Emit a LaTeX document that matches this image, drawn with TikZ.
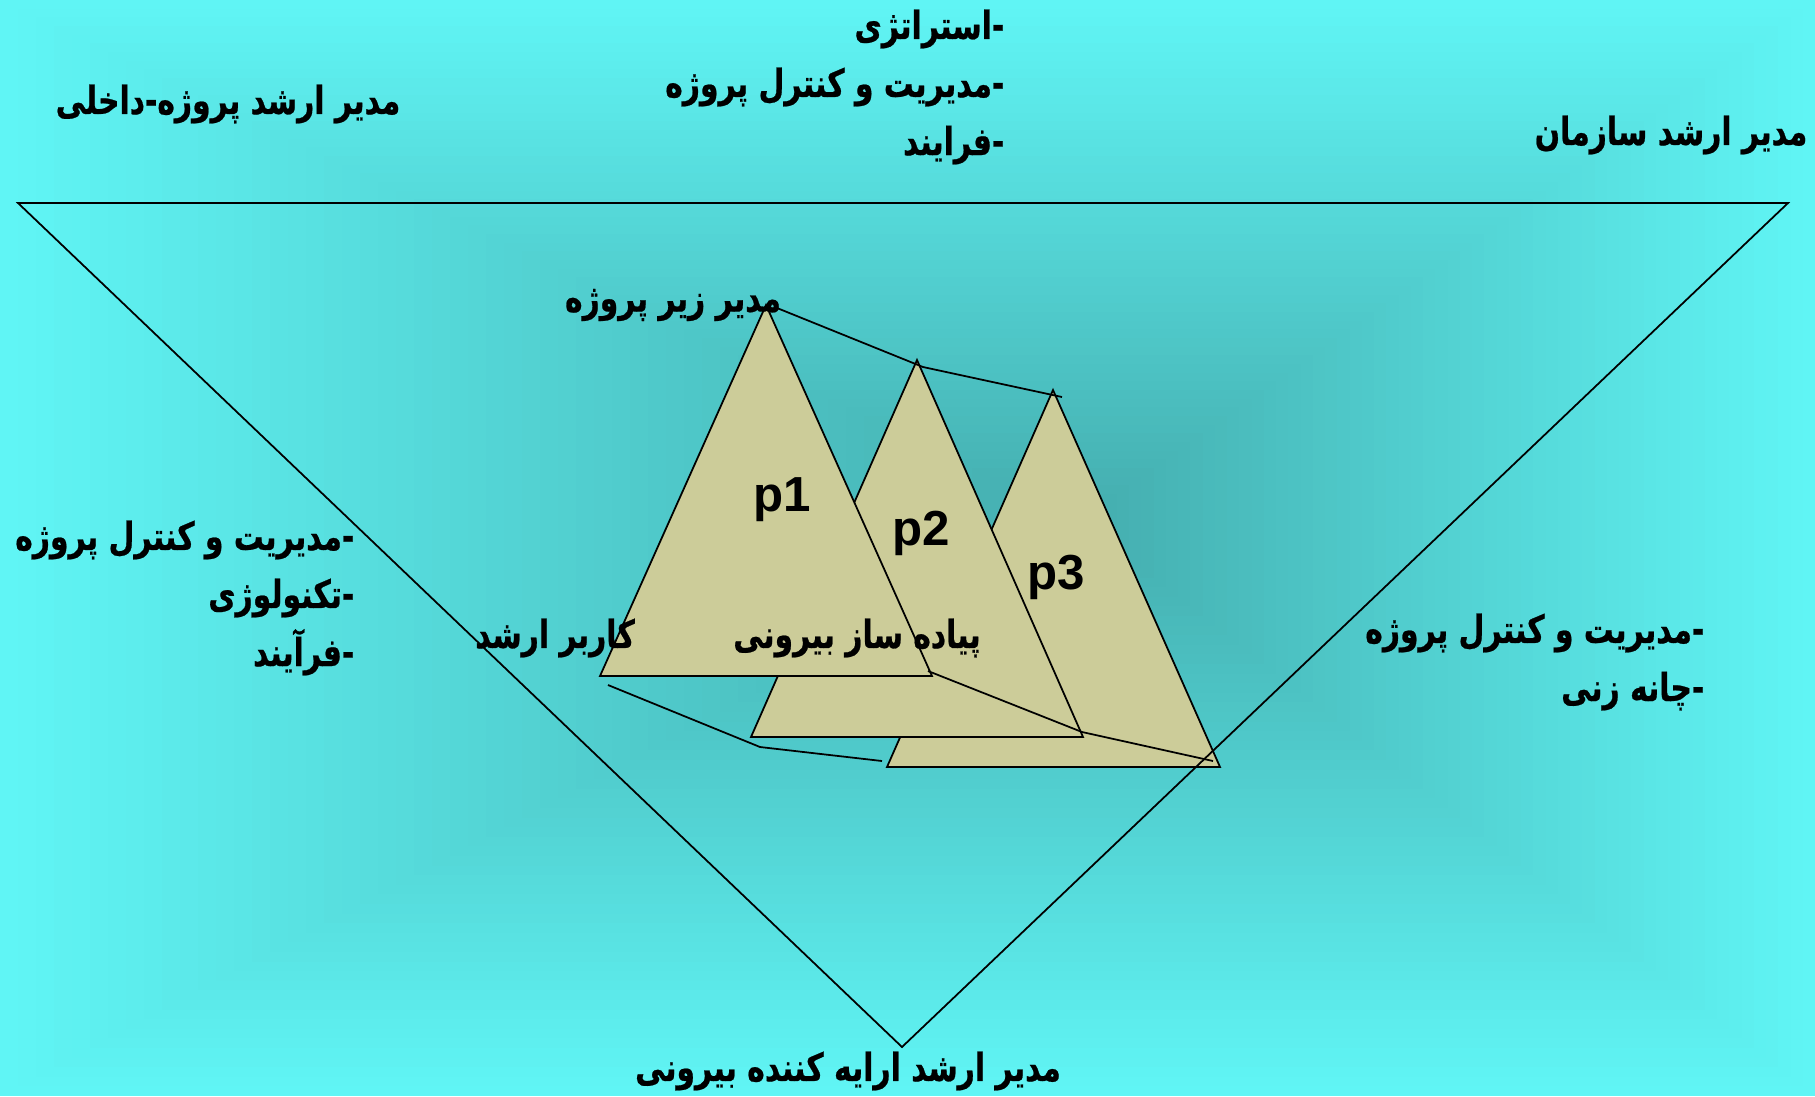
\documentclass[tikz,border=0pt]{standalone}
\usepackage{fontspec}
\setmainfont{Liberation Sans}
\newfontfamily\farsi[Script=Arabic, FakeStretch=0.77, FakeBold=0.6]{DejaVu Sans}
\TeXXeTstate=1
\definecolor{bgedge}{RGB}{96,245,245}
\definecolor{bgcore}{RGB}{68,172,173}
\definecolor{sail}{RGB}{204,204,153}
\newcommand{\fatext}[1]{{\farsi\beginR #1\endR}}

\begin{document}
\begin{tikzpicture}[x=0.01cm, y=-0.01cm,
    % ----- Styles -----
    lbl/.style={font=\fontsize{11}{16.5}\selectfont\bfseries, inner sep=0pt, align=right},
    plbl/.style={font=\fontsize{14}{16}\selectfont\bfseries, inner sep=0pt},
    sailtri/.style={draw=black, fill=sail, line width=0.5pt, line join=miter},
    link/.style={line width=0.5pt}
  ]

% ===================== Hintergrund =============================
\useasboundingbox (0,0) rectangle (1815,1096);
\fill[bgedge] (0,0) rectangle (1815,1096);
\foreach \i in {1,...,60}{
  \pgfmathsetmacro\t{1-\i/60}
  \pgfmathtruncatemacro\p{100*\i/60}
  \fill[bgcore!\p!bgedge] (1080-1080*\t, 520-520*\t) rectangle (1080+735*\t, 520+576*\t);
}

% ===================== Dreiecke p1..p3 =========================
\coordinate (p1top)   at (766,305);
\coordinate (p1left)  at (600,676);
\coordinate (p1right) at (932,676);

\coordinate (p2top)   at (917,360);
\coordinate (p2left)  at (751,737);
\coordinate (p2right) at (1083,737);

\coordinate (p3top)   at (1053,390);
\coordinate (p3left)  at (887,767);
\coordinate (p3right) at (1220,767);

\draw[sailtri] (p3top) -- (p3right) -- (p3left) -- cycle;
\draw[sailtri] (p2top) -- (p2right) -- (p2left) -- cycle;
\draw[sailtri] (p1top) -- (p1right) -- (p1left) -- cycle;

\node[plbl] (p1) at (782,500)  {p1};
\node[plbl] (p2) at (921,533)  {p2};
\node[plbl] (p3) at (1056,577) {p3};

% ===================== Verbindungen ============================
\coordinate (topA) at (777,308);
\coordinate (topB) at (923,367);
\coordinate (topC) at (1062,397);
\draw[link] (topA) -- (topB) -- (topC);

\coordinate (rgtA) at (928,671);
\coordinate (rgtB) at (1082,732);
\coordinate (rgtC) at (1213,761);
\draw[link] (rgtA) -- (rgtB) -- (rgtC);

\coordinate (lftA) at (608,685);
\coordinate (lftB) at (760,747);
\coordinate (lftC) at (882,761);
\draw[link] (lftA) -- (lftB) -- (lftC);

% ===================== Grosses Dreieck =========================
\coordinate (outerL) at (18,203);
\coordinate (outerR) at (1788,203);
\coordinate (outerB) at (902,1047);
\draw[link] (outerL) -- (outerR) -- (outerB) -- cycle;

% ===================== Beschriftungen ==========================
\node[lbl, anchor=east] (topList) at (1005,87)
  {\fatext{-استراتژی}\\ \fatext{-مدیریت و کنترل  پروژه}\\ \fatext{-فرایند}};
\node[lbl] (inner) at (228,104) {\fatext{مدیر ارشد پروژه-داخلی}};
\node[lbl] (org) at (1671,135) {\fatext{مدیر ارشد سازمان}};
\node[lbl, anchor=east] (leftList) at (355,598)
  {\fatext{-مدیریت و کنترل پروژه}\\ \fatext{-تکنولوژی}\\ \fatext{-فرآیند}};
\node[lbl, anchor=east] (rightList) at (1705,662)
  {\fatext{-مدیریت و کنترل پروژه}\\ \fatext{-چانه زنی}};
\node[lbl] (sub) at (673,305) {\fatext{مدیر زیر پروژه}};
\node[lbl] (user) at (555,638) {\fatext{کاربر ارشد}};
\node[lbl] (impl) at (857,638) {\fatext{پیاده ساز بیرونی}};
\node[lbl] (supplier) at (848,1071) {\fatext{مدیر ارشد ارایه کننده بیرونی}};

\end{tikzpicture}
\end{document}
